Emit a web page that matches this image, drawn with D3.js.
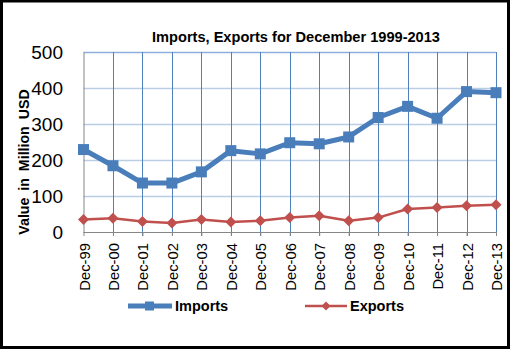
<!DOCTYPE html>
<html>
<head>
<meta charset="utf-8">
<script src="https://cdn.jsdelivr.net/npm/d3@7/dist/d3.min.js"></script>
<style>
  html, body { margin: 0; padding: 0; background: #fff; }
  svg { display: block; }
  text { font-family: "Liberation Sans", Arial, sans-serif; fill: #000; }
</style>
</head>
<body>
<svg id="chart" width="511" height="349"></svg>
<script>
// Monthly trade figures for December of each year, in million USD
const categories = ["Dec-99","Dec-00","Dec-01","Dec-02","Dec-03","Dec-04","Dec-05",
                    "Dec-06","Dec-07","Dec-08","Dec-09","Dec-10","Dec-11","Dec-12","Dec-13"];
const imports = [229, 184, 136, 136, 167, 226, 217, 248, 245, 264, 318, 349, 316, 390, 387];
const exports = [35, 38, 29, 25, 35, 28, 31, 40, 45, 31, 40, 64, 68, 73, 76];
const yTicks = [0, 100, 200, 300, 400, 500];
const seriesNames = ["Imports", "Exports"];

const svg = d3.select("#chart");
const plot = { left: 83.5, right: 496, top: 52, bottom: 232 };

const x = d3.scalePoint().domain(categories).range([plot.left, plot.right]);
const y = d3.scaleLinear().domain([0, 500]).range([plot.bottom, plot.top]);

// Outer frame
svg.append("rect")
  .attr("x", 1.5).attr("y", 1).attr("width", 507).attr("height", 346.5)
  .attr("fill", "#fff").attr("stroke", "#000").attr("stroke-width", 3);

// Title
svg.append("text")
  .attr("x", 296).attr("y", 42)
  .attr("text-anchor", "middle")
  .attr("font-weight", "bold").attr("font-size", 14.6)
  .text("Imports, Exports for December 1999-2013");

// Horizontal gridlines
svg.append("g")
  .selectAll("line")
  .data(yTicks.filter(d => d > 0))
  .join("line")
  .attr("x1", plot.left).attr("x2", plot.right)
  .attr("y1", d => Math.round(y(d)) + 0.5).attr("y2", d => Math.round(y(d)) + 0.5)
  .attr("stroke", d => d === 500 ? "#8eaedb" : "#b9cde5").attr("stroke-width", 1.5);

// Vertical gridlines through each category
svg.append("g")
  .selectAll("line")
  .data(categories.slice(1))
  .join("line")
  .attr("x1", d => Math.round(x(d)) + 0.5).attr("x2", d => Math.round(x(d)) + 0.5)
  .attr("y1", plot.top).attr("y2", plot.bottom + 4)
  .attr("stroke", "#4f81bd").attr("stroke-width", 1);

// Y axis
const yAxis = d3.axisLeft(y).tickValues(yTicks).tickSize(0).tickPadding(20);
const gy = svg.append("g")
  .attr("transform", `translate(${plot.left},0)`)
  .call(yAxis);
gy.select(".domain").attr("stroke", "#868686").attr("stroke-width", 1);
gy.selectAll("text")
  .attr("x", -20.5)
  .attr("font-size", 19)
  .attr("font-family", "Liberation Sans, Arial, sans-serif")
  .attr("fill", "#111");

// X axis
const xAxis = d3.axisBottom(x).tickSize(4).tickPadding(0);
const gx = svg.append("g")
  .attr("transform", `translate(0,${plot.bottom})`)
  .call(xAxis);
gx.select(".domain").attr("d", `M${plot.left},0.5H${plot.right}`)
  .attr("stroke", "#868686").attr("stroke-width", 1);
gx.selectAll(".tick line").attr("stroke", "#868686");
gx.selectAll("text")
  .attr("font-size", 14.8)
  .attr("font-family", "Liberation Sans, Arial, sans-serif")
  .attr("fill", "#000")
  .attr("text-anchor", "end")
  .attr("dy", null)
  .attr("y", 0)
  .attr("transform", "translate(5.5,11) rotate(-90)");

// Y axis title
svg.append("text")
  .attr("transform", "translate(28.5,162) rotate(-90)")
  .attr("text-anchor", "middle")
  .attr("font-weight", "bold").attr("font-size", 14.2)
  .attr("word-spacing", 3)
  .text("Value in Million USD");

// Series
const line = d3.line().x((d, i) => x(categories[i])).y(d => y(d));

svg.append("path")
  .datum(exports)
  .attr("d", line)
  .attr("fill", "none").attr("stroke", "#c0504d").attr("stroke-width", 2.5)
  .attr("stroke-linejoin", "round");

svg.append("g")
  .selectAll("path")
  .data(exports)
  .join("path")
  .attr("transform", (d, i) => `translate(${x(categories[i])},${y(d)})`)
  .attr("d", "M0,-5.5L5.5,0L0,5.5L-5.5,0Z")
  .attr("fill", "#c0504d");

svg.append("path")
  .datum(imports)
  .attr("d", line)
  .attr("fill", "none").attr("stroke", "#4a7ebb").attr("stroke-width", 5)
  .attr("stroke-linejoin", "round");

svg.append("g")
  .selectAll("rect")
  .data(imports)
  .join("rect")
  .attr("x", (d, i) => x(categories[i]) - 5.5)
  .attr("y", d => y(d) - 5.5)
  .attr("width", 11).attr("height", 11)
  .attr("fill", "#4a7ebb");

// Legend
const legend = svg.append("g");
const legY = 306;
legend.append("line")
  .attr("x1", 128).attr("x2", 172).attr("y1", legY).attr("y2", legY)
  .attr("stroke", "#4a7ebb").attr("stroke-width", 5);
legend.append("rect")
  .attr("x", 145).attr("y", legY - 4.5).attr("width", 9).attr("height", 9)
  .attr("fill", "#4a7ebb");
legend.append("text")
  .attr("x", 175).attr("y", 311)
  .attr("font-weight", "bold").attr("font-size", 14.5)
  .text(seriesNames[0]);

legend.append("line")
  .attr("x1", 305).attr("x2", 347).attr("y1", legY).attr("y2", legY)
  .attr("stroke", "#c0504d").attr("stroke-width", 2.5);
legend.append("path")
  .attr("transform", `translate(326,${legY})`)
  .attr("d", "M0,-4.5L4.5,0L0,4.5L-4.5,0Z")
  .attr("fill", "#c0504d");
legend.append("text")
  .attr("x", 350).attr("y", 311)
  .attr("font-weight", "bold").attr("font-size", 14.5)
  .text(seriesNames[1]);
</script>
</body>
</html>
